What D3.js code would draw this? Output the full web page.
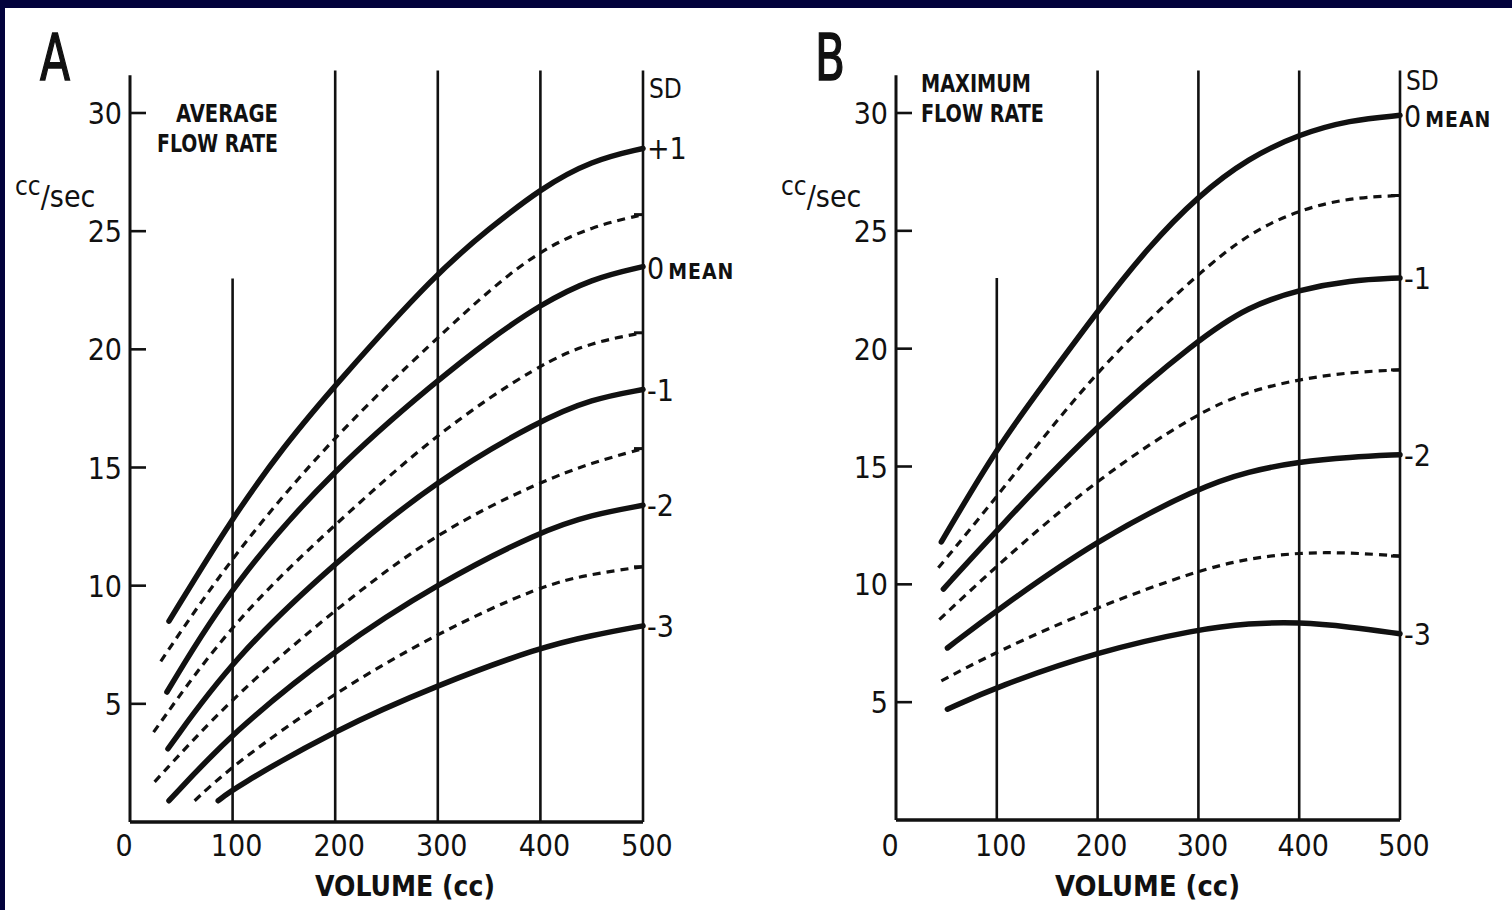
<!DOCTYPE html>
<html>
<head>
<meta charset="utf-8">
<script src="https://d3js.org/d3.v7.min.js"></script>
<style>
  html, body { margin: 0; padding: 0; background: #02023c; }
  svg { display: block; }
  text { font-family: "DejaVu Sans Condensed", "Liberation Sans Narrow", "DejaVu Sans", sans-serif; fill: #111; }
</style>
</head>
<body>
<svg id="chart" width="1512" height="910"></svg>
<script>
// axis ticks
const volumeTicks = [0, 100, 200, 300, 400, 500];
const flowTicks = [5, 10, 15, 20, 25, 30];

// A: average flow rate, [volume cc, flow cc/sec] per SD curve
const avgPlus1   = [[38, 8.5], [100, 12.9], [150, 15.9], [200, 18.5], [300, 23.3], [350, 25.1], [400, 26.8], [450, 28.0], [500, 28.5]];
const avgPlus05  = [[30, 6.8], [100, 11.3], [200, 16.4], [300, 20.5], [350, 22.5], [400, 24.2], [450, 25.2], [500, 25.7]];
const avgMean    = [[36, 5.5], [100, 10.1], [200, 15.0], [300, 18.7], [350, 20.4], [400, 21.9], [450, 23.0], [500, 23.5]];
const avgMinus05 = [[23, 3.8], [100, 8.5], [200, 12.6], [300, 16.5], [400, 19.4], [450, 20.3], [500, 20.7]];
const avgMinus1  = [[37, 3.1], [100, 6.9], [200, 11.0], [300, 14.5], [400, 17.0], [450, 17.9], [500, 18.3]];
const avgMinus15 = [[24, 1.7], [100, 5.3], [200, 9.0], [300, 12.3], [400, 14.4], [450, 15.2], [500, 15.8]];
const avgMinus2  = [[38, 0.9], [100, 3.8], [200, 7.3], [300, 10.1], [400, 12.3], [450, 13.0], [500, 13.4]];
const avgMinus25 = [[63, 0.9], [100, 2.4], [200, 5.5], [300, 8.0], [400, 10.0], [450, 10.5], [500, 10.8]];
const avgMinus3  = [[86, 0.9], [100, 1.4], [200, 3.9], [300, 5.8], [400, 7.4], [450, 7.9], [500, 8.3]];

// B: maximum flow rate
const maxMean    = [[45, 11.8], [100, 15.8], [150, 18.7], [200, 21.6], [250, 24.3], [300, 26.5], [350, 28.1], [400, 29.1], [450, 29.7], [500, 29.9]];
const maxMinus05 = [[42, 10.7], [100, 13.7], [200, 19.2], [300, 23.2], [350, 24.9], [400, 25.9], [450, 26.4], [500, 26.5]];
const maxMinus1  = [[47, 9.8], [100, 12.3], [200, 16.8], [300, 20.4], [350, 21.8], [400, 22.5], [450, 22.9], [500, 23.0]];
const maxMinus15 = [[43, 8.5], [100, 10.8], [200, 14.5], [300, 17.3], [350, 18.2], [400, 18.7], [450, 19.0], [500, 19.1]];
const maxMinus2  = [[51, 7.3], [100, 8.9], [200, 11.9], [300, 14.1], [350, 14.8], [400, 15.2], [450, 15.4], [500, 15.5]];
const maxMinus25 = [[45, 5.9], [100, 7.15], [200, 9.05], [300, 10.6], [350, 11.1], [400, 11.35], [450, 11.35], [500, 11.2]];
const maxMinus3  = [[51, 4.7], [100, 5.65], [200, 7.15], [300, 8.1], [350, 8.35], [400, 8.4], [450, 8.2], [500, 7.9]];

const svg = d3.select('#chart');

// white paper with the navy frame showing top and left
svg.append('rect')
  .attr('x', 5).attr('y', 8)
  .attr('width', 1507).attr('height', 902)
  .attr('fill', '#fff');

const panels = [
  {
    letter: 'A', letterX: 40, letterY: 80,
    left: 130, right: 643, bottom: 822, top30: 113,
    title: ['AVERAGE', 'FLOW RATE'], titleLen: [102, 121],
    titleX: 278, titleY: [122, 152], titleAnchor: 'end',
    unitX: 15, axisTitleX: 315, axisTitleLen: 180,
    curves: [
      { data: avgPlus1, solid: true, label: '+1' },
      { data: avgPlus05, solid: false },
      { data: avgMean, solid: true, label: '0', mean: true },
      { data: avgMinus05, solid: false },
      { data: avgMinus1, solid: true, label: '-1' },
      { data: avgMinus15, solid: false },
      { data: avgMinus2, solid: true, label: '-2' },
      { data: avgMinus25, solid: false },
      { data: avgMinus3, solid: true, label: '-3' }
    ],
    sdY: 98
  },
  {
    letter: 'B', letterX: 815, letterY: 80,
    left: 896, right: 1400, bottom: 820, top30: 113,
    title: ['MAXIMUM', 'FLOW RATE'], titleLen: [110, 123],
    titleX: 921, titleY: [92, 122], titleAnchor: 'start',
    unitX: 781, axisTitleX: 1055, axisTitleLen: 185,
    curves: [
      { data: maxMean, solid: true, label: '0', mean: true },
      { data: maxMinus05, solid: false },
      { data: maxMinus1, solid: true, label: '-1' },
      { data: maxMinus15, solid: false },
      { data: maxMinus2, solid: true, label: '-2' },
      { data: maxMinus25, solid: false },
      { data: maxMinus3, solid: true, label: '-3' }
    ],
    sdY: 90
  }
];

panels.forEach(p => {
  const x = d3.scaleLinear().domain([0, 500]).range([p.left, p.right]);
  const y = d3.scaleLinear().domain([0, 30]).range([p.bottom, p.top30]);
  const g = svg.append('g');

  // vertical grid lines (100 line is short)
  g.selectAll('.grid')
    .data(volumeTicks)
    .enter()
    .append('line')
    .attr('x1', d => x(d)).attr('x2', d => x(d))
    .attr('y1', d => d === 100 ? y(23) : y(d === 0 ? 31.6 : 31.8))
    .attr('y2', y(0))
    .attr('stroke', '#111')
    .attr('stroke-width', d => d === 0 ? 3 : 2.6);

  // baseline
  g.append('line')
    .attr('x1', x(0)).attr('x2', x(500))
    .attr('y1', y(0)).attr('y2', y(0))
    .attr('stroke', '#111').attr('stroke-width', 3.5);

  // y ticks, inward
  g.selectAll('.ytick')
    .data(flowTicks)
    .enter()
    .append('line')
    .attr('x1', x(0)).attr('x2', x(0) + 16)
    .attr('y1', d => y(d)).attr('y2', d => y(d))
    .attr('stroke', '#111').attr('stroke-width', 2.6);

  g.selectAll('.ylabel')
    .data(flowTicks)
    .enter()
    .append('text')
    .attr('x', x(0) - 8)
    .attr('y', d => y(d) + 11)
    .attr('text-anchor', 'end')
    .style('font-size', '30px')
    .text(d => d);

  // x labels
  g.selectAll('.xlabel')
    .data(volumeTicks)
    .enter()
    .append('text')
    .attr('x', d => d === 0 ? x(0) - 6 : x(d) + 4)
    .attr('y', 856)
    .attr('text-anchor', 'middle')
    .style('font-size', '30px')
    .text(d => d);

  g.append('text')
    .attr('x', p.axisTitleX)
    .attr('y', 896)
    .attr('textLength', p.axisTitleLen)
    .attr('lengthAdjust', 'spacingAndGlyphs')
    .style('font-size', '29px')
    .style('font-weight', 'bold')
    .text('VOLUME (cc)');

  // panel letter
  g.append('text')
    .attr('x', p.letterX).attr('y', p.letterY)
    .attr('textLength', 30)
    .attr('lengthAdjust', 'spacingAndGlyphs')
    .attr('stroke', '#111').attr('stroke-width', 1.5)
    .style('font-size', '64px')
    .text(p.letter);

  // panel title
  p.title.forEach((t, i) => {
    g.append('text')
      .attr('x', p.titleX).attr('y', p.titleY[i])
      .attr('text-anchor', p.titleAnchor)
      .attr('textLength', p.titleLen[i])
      .attr('lengthAdjust', 'spacingAndGlyphs')
      .style('font-size', '24px')
      .style('font-weight', 'bold')
      .text(t);
  });

  // units
  const u = g.append('text').attr('x', p.unitX).attr('y', 207).style('font-size', '30px');
  u.append('tspan').attr('dy', -12).style('font-size', '26px').text('cc');
  u.append('tspan').attr('dy', 12).text('/sec');

  // SD header
  g.append('text')
    .attr('x', x(500) + 6).attr('y', p.sdY)
    .style('font-size', '26px')
    .text('SD');

  // curves, smoothed through the read-off points
  const line = d3.line()
    .x(d => x(d[0]))
    .y(d => y(d[1]))
    .curve(d3.curveBasis);

  g.selectAll('.curve')
    .data(p.curves)
    .enter()
    .append('path')
    .attr('d', d => line(d.data))
    .attr('fill', 'none')
    .attr('stroke', '#111')
    .attr('stroke-width', d => d.solid ? 5.5 : 3.2)
    .attr('stroke-linecap', d => d.solid ? 'round' : 'butt')
    .attr('stroke-dasharray', d => d.solid ? null : '8,6');

  // small inward ticks where dashed curves meet the right edge
  g.selectAll('.rtick')
    .data(p.curves.filter(c => !c.solid))
    .enter()
    .append('line')
    .attr('x1', x(500) - 9).attr('x2', x(500))
    .attr('y1', d => y(d.data[d.data.length - 1][1]))
    .attr('y2', d => y(d.data[d.data.length - 1][1]))
    .attr('stroke', '#111').attr('stroke-width', 3);

  // SD labels
  const lab = g.selectAll('.sdlabel')
    .data(p.curves.filter(c => c.label))
    .enter()
    .append('text')
    .attr('x', x(500) + 4)
    .attr('y', d => y(d.data[d.data.length - 1][1]) + (d.mean ? 12 : 11))
    .style('font-size', '30px');
  lab.append('tspan').text(d => d.label);
  lab.filter(d => d.mean)
    .append('tspan')
    .attr('dx', 4)
    .style('font-size', '21px')
    .style('font-weight', 'bold')
    .style('letter-spacing', '1px')
    .text('MEAN');
});
</script>
</body>
</html>
